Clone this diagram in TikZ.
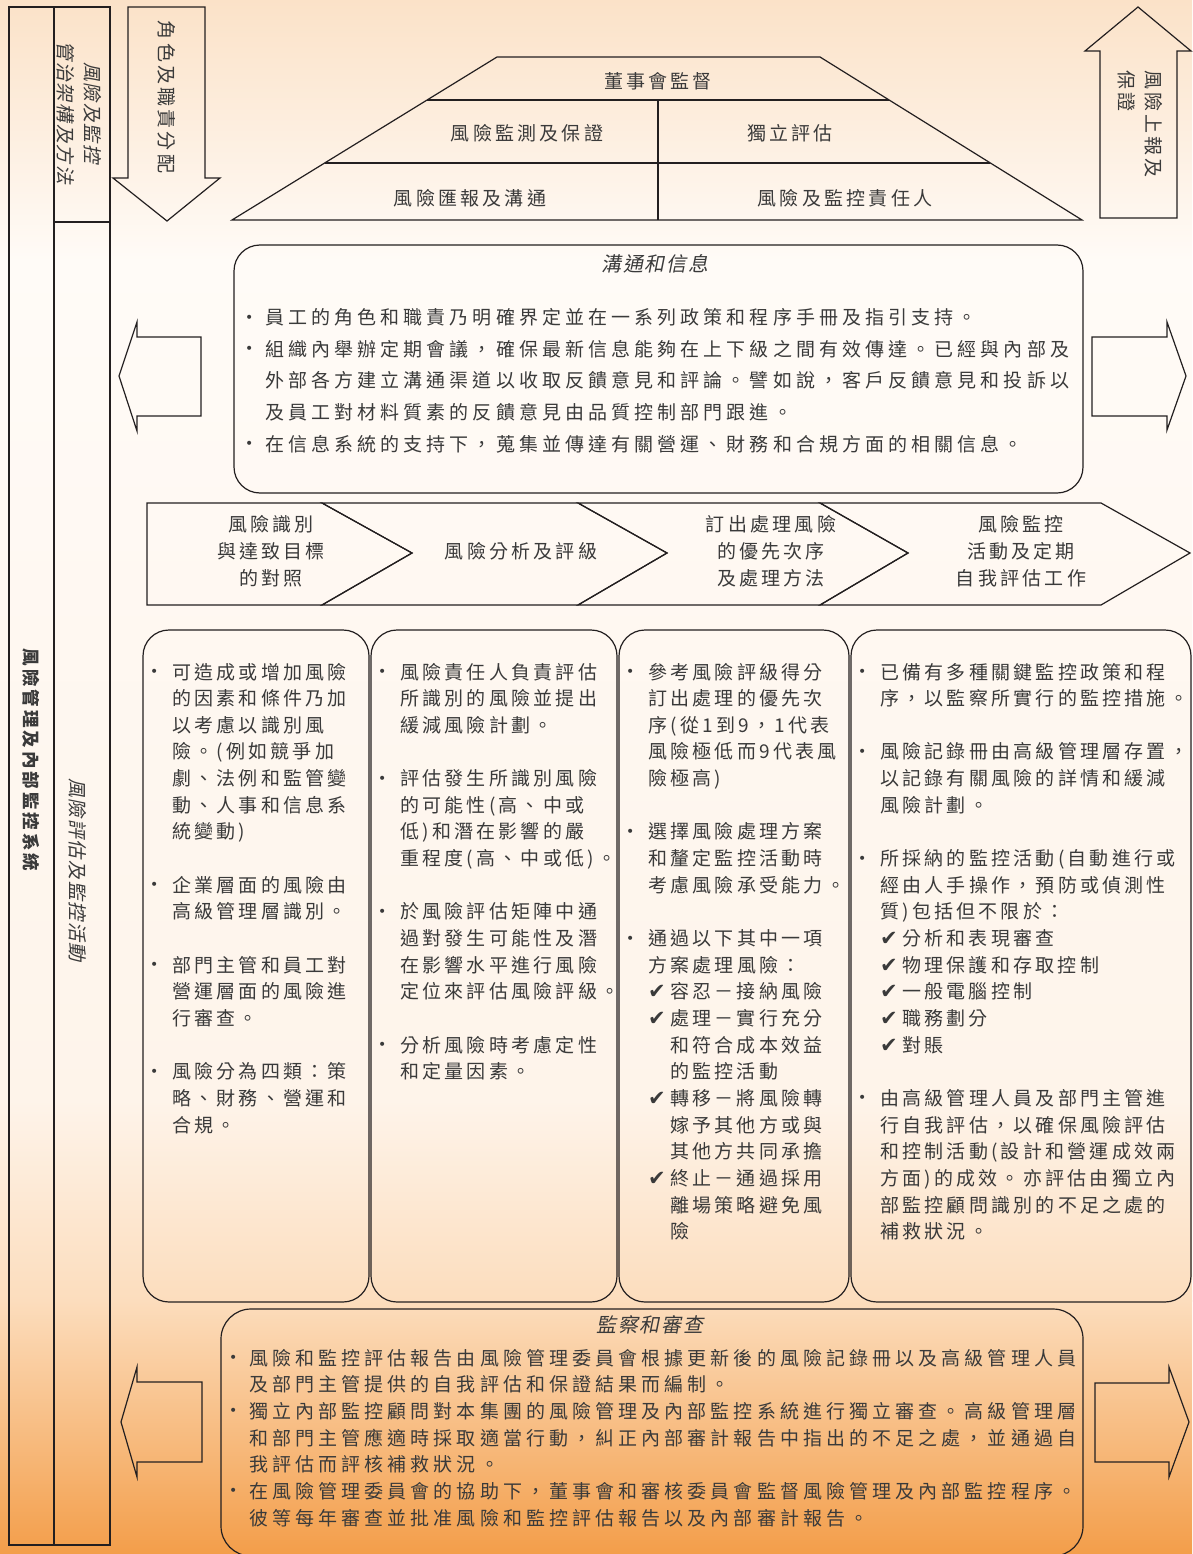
\documentclass[tikz,border=0pt]{standalone}
\usepackage{fontspec}
\newfontfamily\cjk[LetterSpace=17]{Noto Sans CJK TC}
\newfontfamily\cjkw[LetterSpace=21.5]{Noto Sans CJK TC}
\newfontfamily\cjkit[FakeSlant=0.2,LetterSpace=8]{Noto Sans CJK TC}
\newfontfamily\dvs{DejaVu Sans}
\definecolor{txt}{HTML}{3A3A3A}
\definecolor{ln}{HTML}{231F20}
\definecolor{bgA}{HTML}{FBE2C8}
\definecolor{bgB}{HTML}{FFFBF7}
\definecolor{bgC}{HTML}{FEF4EA}
\definecolor{bgD}{HTML}{FCDDBD}
\definecolor{bgE}{HTML}{F39E4A}
\newlength\bw \setlength\bw{22pt}
\newcommand\bul{\makebox[\bw][l]{\raisebox{2.5pt}{\dvs\fontsize{14}{14}\selectfont •}}}
\newcommand\ind{\makebox[\bw]{}}
\newcommand\chk{\makebox[\bw][l]{\dvs\fontsize{21}{21}\selectfont ✔}}
\newcommand\Lines[2]{\vtop{\baselineskip=#1\relax\lineskiplimit=-1000pt\lineskip=0pt\relax#2}}
\newcommand\Lx[1]{\hbox{#1}}
\begin{document}
\begin{tikzpicture}[x=1pt,y=-1pt,
  ol/.style={draw=ln,line width=1.2pt,line join=miter},
  rb/.style={draw=ln,line width=1.2pt,rounded corners=26pt},
  tx/.style={text=txt,inner sep=0pt,font={\cjk\fontsize{19}{27}\selectfont}},
  rt/.style={tx,rotate=-90},
  colt/.style={tx,anchor=base west,font={\cjk\fontsize{19}{19}\selectfont}},
  widet/.style={tx,anchor=base west,font={\cjkw\fontsize{19}{19}\selectfont}},
  ttl/.style={tx,font={\cjkit\fontsize{20}{20}\selectfont}}
  ]
\useasboundingbox (0,0) rectangle (1192,1554);
% background
\shade[top color=bgA,bottom color=bgB] (0,0) rectangle (1192,261);
\shade[top color=bgB,bottom color=bgC] (0,260) rectangle (1192,1101);
\shade[top color=bgC,bottom color=bgD] (0,1100) rectangle (1192,1301);
\shade[top color=bgD,bottom color=bgE] (0,1300) rectangle (1192,1554);

% left column
\draw[ol] (9,7) rectangle (110,1545);
\draw[ol] (54,7) -- (54,1545);
\draw[ol] (54,222) -- (110,222);
\node[rt,font={\cjk\bfseries\fontsize{17.5}{17.5}\selectfont}] (sys) at (31,760) {風險管理及內部監控系統};
\node[rt,align=center,font={\cjkit\fontsize{19}{27}\selectfont}] (gov) at (79,113) {風險及監控\\管治架構及方法};
\node[rt,font={\cjkit\fontsize{19}{27}\selectfont}] (eval) at (78,870) {風險評估及監控活動};

% down arrow
\draw[ol] (128,7) -- (205,7) -- (205,178) -- (220,178) -- (167,221) -- (113,178) -- (128,178) -- cycle;
\node[rt] (role) at (167,97) {角色及職責分配};

% up arrow
\draw[ol] (1100,218) -- (1100,51) -- (1085,51) -- (1138,7) -- (1191,51) -- (1177,51) -- (1177,218) -- cycle;
\node[rt,align=left] (rep) at (1140,124) {風險上報及\\保證};

% pyramid
\draw[ol] (497,57) -- (820,57) -- (1082,220) -- (232,220) -- cycle;
\draw[ol] (427,100) -- (889,100);
\draw[ol] (325,163) -- (990,163);
\draw[ol] (658,100) -- (658,220);
\node[tx] (board) at (658,81) {董事會監督};
\node[tx] (mon) at (527,133) {風險監測及保證};
\node[tx] (indep) at (790,133) {獨立評估};
\node[tx] (repc) at (470,198) {風險匯報及溝通};
\node[tx] (own) at (845,198) {風險及監控責任人};

% communication box
\draw[rb] (234,245) rectangle (1083,493);
\node[ttl] (commt) at (655,264) {溝通和信息};
\node[widet] (commb) at (245,324.5) {\setlength\bw{20pt}\Lines{31.7pt}{%
\Lx{\bul 員工的角色和職責乃明確界定並在一系列政策和程序手冊及指引支持。}
\Lx{\bul 組織內舉辦定期會議，確保最新信息能夠在上下級之間有效傳達。已經與內部及}
\Lx{\ind 外部各方建立溝通渠道以收取反饋意見和評論。譬如說，客戶反饋意見和投訴以}
\Lx{\ind 及員工對材料質素的反饋意見由品質控制部門跟進。}
\Lx{\bul 在信息系統的支持下，蒐集並傳達有關營運、財務和合規方面的相關信息。}}};
\draw[ol] (201,337) -- (137,337) -- (137,322) -- (119,376) -- (137,431) -- (137,416) -- (201,416) -- cycle;
\draw[ol] (1092,337) -- (1167,337) -- (1167,322) -- (1186,376) -- (1167,430) -- (1167,416) -- (1092,416) -- cycle;

% process chevrons
\draw[ol] (147,503) -- (322,503) -- (412,553) -- (322,605) -- (147,605) -- cycle;
\draw[ol] (322,503) -- (578,503) -- (667,553) -- (578,605) -- (322,605) -- (412,553) -- cycle;
\draw[ol] (578,503) -- (820,503) -- (908,553) -- (820,605) -- (578,605) -- (667,553) -- cycle;
\draw[ol] (820,503) -- (1101,503) -- (1190,553) -- (1101,605) -- (820,605) -- (908,553) -- cycle;
\node[tx,align=center] (p1) at (271,551) {風險識別\\與達致目標\\的對照};
\node[tx] (p2) at (521,551) {風險分析及評級};
\node[tx,align=center] (p3) at (771,551) {訂出處理風險\\的優先次序\\及處理方法};
\node[tx,align=center] (p4) at (1021,551) {風險監控\\活動及定期\\自我評估工作};

% columns
\draw[rb] (143,630) rectangle (369,1302);
\draw[rb] (371,630) rectangle (617,1302);
\draw[rb] (619,630) rectangle (849,1302);
\draw[rb] (851,630) rectangle (1191,1302);

\node[colt] (c1) at (150,679) {\Lines{26.65pt}{%
\Lx{\bul 可造成或增加風險}
\Lx{\ind 的因素和條件乃加}
\Lx{\ind 以考慮以識別風}
\Lx{\ind 險。(例如競爭加}
\Lx{\ind 劇、法例和監管變}
\Lx{\ind 動、人事和信息系}
\Lx{\ind 統變動)}
\Lx{}
\Lx{\bul 企業層面的風險由}
\Lx{\ind 高級管理層識別。}
\Lx{}
\Lx{\bul 部門主管和員工對}
\Lx{\ind 營運層面的風險進}
\Lx{\ind 行審查。}
\Lx{}
\Lx{\bul 風險分為四類：策}
\Lx{\ind 略、財務、營運和}
\Lx{\ind 合規。}}};

\node[colt] (c2) at (378,679) {\Lines{26.65pt}{%
\Lx{\bul 風險責任人負責評估}
\Lx{\ind 所識別的風險並提出}
\Lx{\ind 緩減風險計劃。}
\Lx{}
\Lx{\bul 評估發生所識別風險}
\Lx{\ind 的可能性(高、中或}
\Lx{\ind 低)和潛在影響的嚴}
\Lx{\ind 重程度(高、中或低)。}
\Lx{}
\Lx{\bul 於風險評估矩陣中通}
\Lx{\ind 過對發生可能性及潛}
\Lx{\ind 在影響水平進行風險}
\Lx{\ind 定位來評估風險評級。}
\Lx{}
\Lx{\bul 分析風險時考慮定性}
\Lx{\ind 和定量因素。}}};

\node[colt] (c3) at (626,679) {\Lines{26.65pt}{%
\Lx{\bul 參考風險評級得分}
\Lx{\ind 訂出處理的優先次}
\Lx{\ind 序(從1到9，1代表}
\Lx{\ind 風險極低而9代表風}
\Lx{\ind 險極高)}
\Lx{}
\Lx{\bul 選擇風險處理方案}
\Lx{\ind 和釐定監控活動時}
\Lx{\ind 考慮風險承受能力。}
\Lx{}
\Lx{\bul 通過以下其中一項}
\Lx{\ind 方案處理風險：}
\Lx{\ind\chk 容忍－接納風險}
\Lx{\ind\chk 處理－實行充分}
\Lx{\ind\ind 和符合成本效益}
\Lx{\ind\ind 的監控活動}
\Lx{\ind\chk 轉移－將風險轉}
\Lx{\ind\ind 嫁予其他方或與}
\Lx{\ind\ind 其他方共同承擔}
\Lx{\ind\chk 終止－通過採用}
\Lx{\ind\ind 離場策略避免風}
\Lx{\ind\ind 險}}};

\node[colt] (c4) at (858,679) {\Lines{26.65pt}{%
\Lx{\bul 已備有多種關鍵監控政策和程}
\Lx{\ind 序，以監察所實行的監控措施。}
\Lx{}
\Lx{\bul 風險記錄冊由高級管理層存置，}
\Lx{\ind 以記錄有關風險的詳情和緩減}
\Lx{\ind 風險計劃。}
\Lx{}
\Lx{\bul 所採納的監控活動(自動進行或}
\Lx{\ind 經由人手操作，預防或偵測性}
\Lx{\ind 質)包括但不限於：}
\Lx{\ind\chk 分析和表現審查}
\Lx{\ind\chk 物理保護和存取控制}
\Lx{\ind\chk 一般電腦控制}
\Lx{\ind\chk 職務劃分}
\Lx{\ind\chk 對賬}
\Lx{}
\Lx{\bul 由高級管理人員及部門主管進}
\Lx{\ind 行自我評估，以確保風險評估}
\Lx{\ind 和控制活動(設計和營運成效兩}
\Lx{\ind 方面)的成效。亦評估由獨立內}
\Lx{\ind 部監控顧問識別的不足之處的}
\Lx{\ind 補救狀況。}}};

% monitoring box
\draw[rb,rounded corners=30pt] (221,1309) rectangle (1083,1556);
\node[ttl] (revt) at (650,1325) {監察和審查};
\node[widet] (revb) at (229,1365) {\setlength\bw{20pt}\Lines{26.67pt}{%
\Lx{\bul 風險和監控評估報告由風險管理委員會根據更新後的風險記錄冊以及高級管理人員}
\Lx{\ind 及部門主管提供的自我評估和保證結果而編制。}
\Lx{\bul 獨立內部監控顧問對本集團的風險管理及內部監控系統進行獨立審查。高級管理層}
\Lx{\ind 和部門主管應適時採取適當行動，糾正內部審計報告中指出的不足之處，並通過自}
\Lx{\ind 我評估而評核補救狀況。}
\Lx{\bul 在風險管理委員會的協助下，董事會和審核委員會監督風險管理及內部監控程序。}
\Lx{\ind 彼等每年審查並批准風險和監控評估報告以及內部審計報告。}}};
\draw[ol] (202,1382) -- (137,1382) -- (137,1367) -- (121,1422) -- (137,1477) -- (137,1462) -- (202,1462) -- cycle;
\draw[ol] (1095,1383) -- (1169,1383) -- (1169,1367) -- (1189,1422) -- (1169,1477) -- (1169,1462) -- (1095,1462) -- cycle;
\end{tikzpicture}
\end{document}
